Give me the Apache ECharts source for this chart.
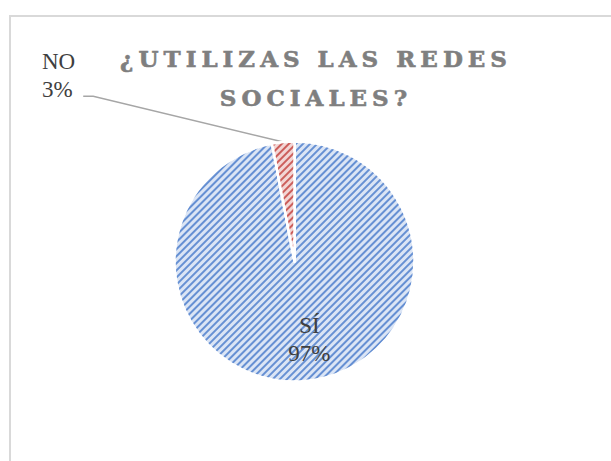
<!DOCTYPE html>
<html>
<head>
<meta charset="utf-8">
<script src="https://cdn.jsdelivr.net/npm/echarts@6/dist/echarts.min.js"></script>
<style>
html, body { margin: 0; padding: 0; background: #fff; }
#frame { position: absolute; left: 9px; top: 15px; width: 700px; height: 500px; border: 2px solid #d9d9d9; box-sizing: border-box; }
#chart { position: absolute; left: 0; top: 0; width: 611px; height: 461px; }
#chart text[style*="bold"] { letter-spacing: 5px; }
</style>
</head>
<body>
<div id="frame"></div>
<div id="chart"></div>
<script>
var titleText = '¿UTILIZAS LAS REDES\nSOCIALES?';
var categories = ['SÍ', 'NO'];
var values = [97, 3];
var baseColors = ['#dbe5f5', '#f2d6d5'];
var stripeColors = ['#6690d3', '#cc5e5b'];

var chart = echarts.init(document.getElementById('chart'), null, { renderer: 'svg' });

var seriesData = categories.map(function (name, i) {
    var item = {
        name: name,
        value: values[i],
        itemStyle: {
            color: baseColors[i],
            decal: {
                symbol: 'rect',
                symbolSize: 1,
                dashArrayX: [1, 0],
                dashArrayY: [1.3, 2.2],
                rotation: -Math.PI / 4,
                color: stripeColors[i]
            }
        }
    };
    if (i === 1) {
        item.label = { position: 'outside' };
        item.labelLine = { show: true };
    } else {
        item.label = { position: 'inside' };
        item.labelLine = { show: false };
    }
    return item;
});

var option = {
    animation: false,
    title: {
        text: titleText,
        left: 316,
        textAlign: 'center',
        top: 39,
        padding: 0,
        textStyle: {
            fontFamily: 'DejaVu Serif',
            fontWeight: 'bold',
            fontSize: 23,
            lineHeight: 39,
            color: '#7f7f7f',
            textBorderColor: '#7f7f7f',
            textBorderWidth: 0.6
        }
    },
    series: [{
        type: 'pie',
        center: [294.5, 261.5],
        radius: 120,
        startAngle: 90,
        clockwise: true,
        selectedMode: false,
        emphasis: { disabled: true },
        itemStyle: { borderColor: '#ffffff', borderWidth: 2.5 },
        label: {
            fontFamily: 'Liberation Serif',
            fontSize: 23,
            lineHeight: 28,
            color: '#404040',
            formatter: function (p) { return p.name + '\n' + p.percent.toFixed(0) + '%'; }
        },
        labelLine: {
            lineStyle: { color: '#a6a6a6', width: 1.5 },
            smooth: false
        },
        labelLayout: function (params) {
            if (params.dataIndex === 1) {
                var w = params.labelRect.width;
                var h = params.labelRect.height;
                var lx = 42, ly = 47;
                var yLine = ly + h * 0.88;
                var pts = params.labelLinePoints;
                return {
                    x: lx, y: ly, align: 'left', verticalAlign: 'top',
                    labelLinePoints: pts ? [pts[0], [lx + w + 18, yLine], [lx + w + 8, yLine]] : undefined
                };
            }
            return { dx: 9, dy: 15 };
        },
        data: seriesData
    }]
};

chart.setOption(option);
</script>
</body>
</html>
